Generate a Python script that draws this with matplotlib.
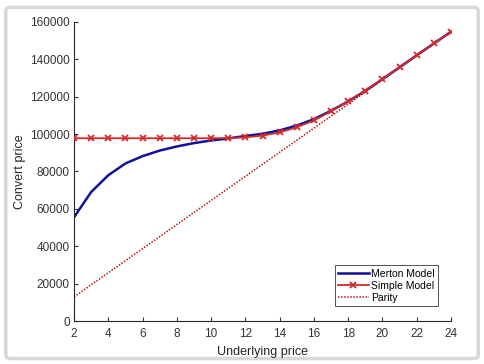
import matplotlib
matplotlib.use("Agg")
import matplotlib.pyplot as plt
from matplotlib.patches import FancyBboxPatch

plt.rcParams['font.family'] = ['Liberation Sans', 'DejaVu Sans']

underlying = list(range(2, 25))
merton = [55500, 69000, 78000, 84300, 88200, 91200, 93400, 95200, 96600, 97700,
          99000, 100200, 102000, 104600, 108000, 112500, 117500, 123200, 129400,
          135800, 142200, 148500, 154800]
simple = [97800, 97800, 97800, 97800, 97800, 97800, 97800, 97800, 97800, 97900,
          98300, 99200, 100900, 103700, 107300, 112200, 117500, 123300, 129400,
          135800, 142200, 148500, 154800]
parity = [6450 * s for s in underlying]

fig = plt.figure(figsize=(4.84, 3.64), dpi=100)
fig.patch.set_facecolor('white')
# light card border
border = FancyBboxPatch((0.012, 0.015), 0.976, 0.965, boxstyle="round,pad=0,rounding_size=0.01",
                        transform=fig.transFigure, facecolor='none', edgecolor='#d8d8d8',
                        linewidth=2.5, zorder=-1)
fig.patches.append(border)

ax = fig.add_axes([74/484, 1 - 321/364, (451 - 74)/484, (321 - 22)/364])
ax.plot(underlying, merton, color='#11119a', linewidth=1.8, label='Merton Model', zorder=2)
ax.plot(underlying, simple, color='#d42a2a', linewidth=1.3, marker='x', markersize=5,
        markeredgewidth=1.3, label='Simple Model', zorder=3)
ax.plot(underlying, parity, color='#b81818', linewidth=1.1, linestyle=(0, (1, 1)),
        label='Parity', zorder=1)

ax.set_xlim(2, 24)
ax.set_ylim(0, 160000)
ax.set_xticks(range(2, 25, 2))
ax.set_yticks(range(0, 160001, 20000))
ax.tick_params(direction='in', length=3, labelsize=8.5, colors='#333333')
ax.tick_params(axis='y', pad=3)
ax.tick_params(axis='x', pad=5)
for s in ['top', 'right']:
    ax.spines[s].set_visible(False)
for s in ['left', 'bottom']:
    ax.spines[s].set_color('#262626')
    ax.spines[s].set_linewidth(0.8)

ax.set_xlabel('Underlying price', fontsize=9, color='#262626', labelpad=4)
ax.set_ylabel('Convert price', fontsize=9, color='#262626', labelpad=3)

leg = ax.legend(loc='lower right', bbox_to_anchor=(1.0 - 10/377, 0.04), fontsize=7.5,
                frameon=True, fancybox=False, handlelength=3.0, handletextpad=0.2,
                borderpad=0.3, labelspacing=0.2, borderaxespad=0.3)
leg.get_frame().set_edgecolor('#262626')
leg.get_frame().set_linewidth(0.7)

fig.savefig('out.png', dpi=100, facecolor='white')
